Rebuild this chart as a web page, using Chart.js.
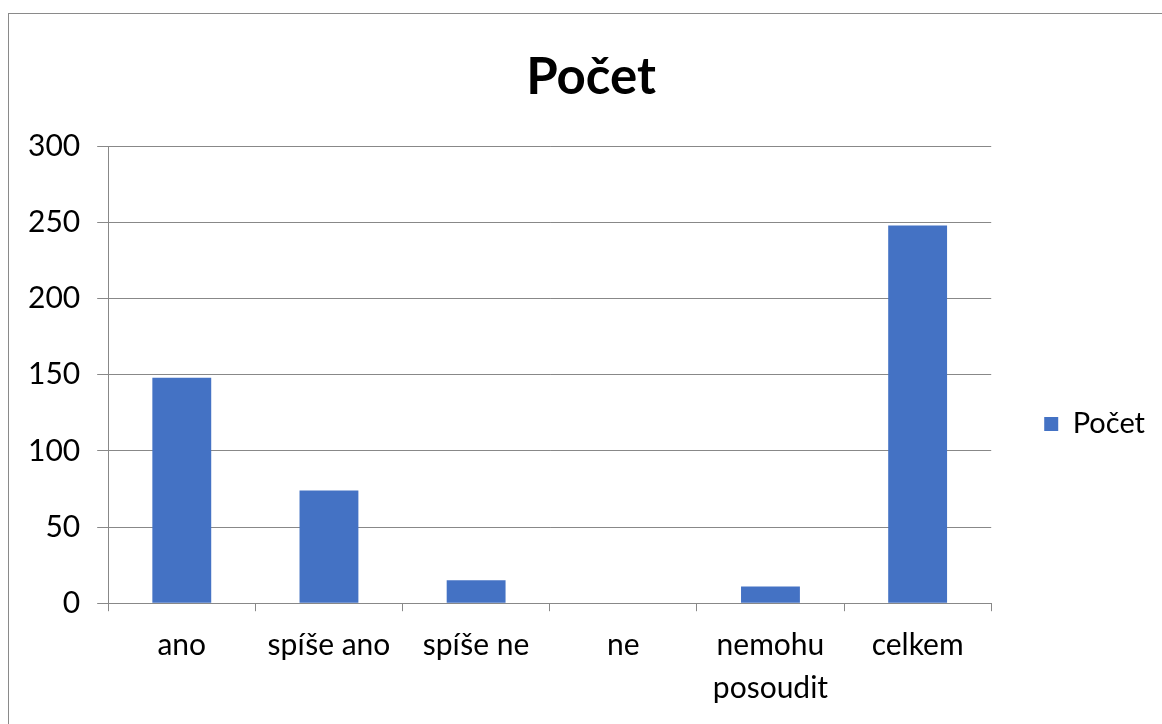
<!DOCTYPE html>
<html>
<head>
<meta charset="utf-8">
<title>Počet</title>
<script src="https://cdn.jsdelivr.net/npm/chart.js"></script>
<style>
    html, body { margin: 0; padding: 0; background: #fff; overflow: hidden; }
    #frame {
        position: absolute; left: 8px; top: 13px; width: 1200px; height: 800px;
        border-left: 1px solid #8a8a8a; border-top: 1px solid #8a8a8a;
    }
    #chart { position: absolute; left: 0; top: 0; }
</style>
</head>
<body>
<div id="frame"></div>
<canvas id="chart" width="1162" height="724"></canvas>
<script>
// Data
const categories = ['ano', 'spíše ano', 'spíše ne', 'ne', ['nemohu', 'posoudit'], 'celkem'];
const counts = [148, 74, 15, 0, 11, 248];
const seriesName = 'Počet';
const yTicks = { min: 0, max: 300, step: 50 };

const gridGray = '#888888';

Chart.defaults.font.family = 'Lato, "Open Sans", sans-serif';
Chart.defaults.color = '#000';

// title in the original is centred a bit right of the canvas middle
const titleNudge = {
    id: 'titleNudge',
    afterLayout(chart) {
        if (chart.titleBlock) chart.titleBlock.left += 16;
    }
};

const ctx = document.getElementById('chart').getContext('2d');
const chart = new Chart(ctx, {
    type: 'bar',
    data: {
        labels: categories,
        datasets: [{
            label: seriesName,
            data: counts,
            backgroundColor: '#4472C4',
            borderWidth: 0,
            barPercentage: 0.4,
            categoryPercentage: 1.0
        }]
    },
    options: {
        responsive: false,
        animation: false,
        layout: {
            padding: { left: 11, right: 7, top: 0, bottom: 1 }
        },
        plugins: {
            title: {
                display: true,
                text: seriesName,
                color: '#000',
                font: { size: 51, weight: 'bold' },
                padding: { top: 47, bottom: 38 }
            },
            legend: {
                display: true,
                position: 'right',
                align: 'start',
                // empty legend title only pushes the entry down to the middle of the plot
                title: {
                    display: true,
                    text: ' ',
                    font: { size: 12 },
                    padding: 171
                },
                labels: {
                    boxWidth: 14,
                    boxHeight: 14,
                    padding: 53,
                    color: '#000',
                    font: { size: 29 }
                }
            },
            tooltip: { enabled: false }
        },
        scales: {
            x: {
                grid: {
                    display: true,
                    drawOnChartArea: false,
                    drawTicks: true,
                    tickLength: 8,
                    color: gridGray
                },
                border: { display: true, color: gridGray },
                ticks: {
                    color: '#000',
                    padding: 13,
                    maxRotation: 0,
                    autoSkip: false,
                    font: { size: 30, lineHeight: 1.43 }
                }
            },
            y: {
                min: yTicks.min,
                max: yTicks.max,
                grid: {
                    color: gridGray,
                    tickLength: 11
                },
                border: { display: true, color: gridGray },
                ticks: {
                    stepSize: yTicks.step,
                    color: '#000',
                    padding: 17,
                    font: { size: 30 }
                }
            }
        }
    },
    plugins: [titleNudge]
});
</script>
</body>
</html>
